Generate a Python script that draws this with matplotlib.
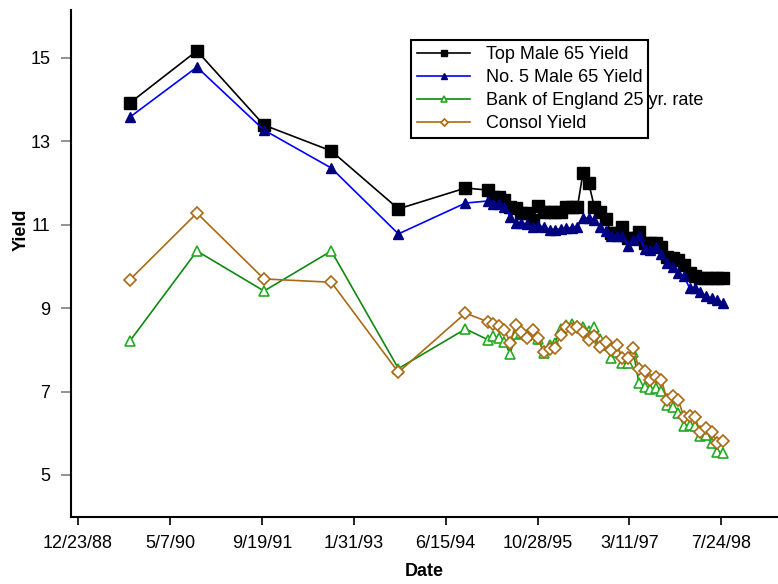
import datetime as dt

import matplotlib.pyplot as plt
import matplotlib.patches as mpatches
import pandas as pd

plt.rcParams['font.family'] = ['Liberation Sans', 'DejaVu Sans']

# observation dates: yearly points up to 1994, then monthly
annual_dates = pd.to_datetime(['1989-10-01', '1990-10-01', '1991-10-01',
                               '1992-10-01', '1993-10-01', '1994-10-01'])
monthly_dates = pd.date_range('1995-02-01', '1998-08-01', freq='MS')
dates = annual_dates.append(monthly_dates)

top_male = [13.92, 15.17, 13.39, 12.77, 11.38, 11.88,
            11.83, 11.67, 11.67, 11.59, 11.43, 11.40, 11.28, 11.28, 11.12, 11.45,
            11.31, 11.31, 11.31, 11.31, 11.43, 11.43, 11.43, 12.24, 12.00, 11.43,
            11.31, 11.14, 10.80, 10.80, 10.95, 10.68, 10.68, 10.83, 10.56, 10.56,
            10.56, 10.47, 10.23, 10.20, 10.16, 10.04, 9.84, 9.77, 9.72, 9.72,
            9.72, 9.72, 9.72]

no5_male = [13.58, 14.78, 13.27, 12.36, 10.78, 11.52,
            11.57, 11.50, 11.50, 11.43, 11.19, 11.04, 11.04, 11.02, 10.95, 10.97,
            10.95, 10.88, 10.88, 10.90, 10.92, 10.92, 10.95, 11.16, 11.16, 11.12,
            10.94, 10.85, 10.73, 10.73, 10.73, 10.49, 10.64, 10.73, 10.42, 10.40,
            10.47, 10.30, 10.08, 9.99, 9.84, 9.77, 9.48, 9.48, 9.39, 9.29,
            9.24, 9.20, 9.12]

boe_25yr = [8.21, 10.37, 9.41, 10.37, 7.55, 8.50,
            8.24, 8.33, 8.29, 8.19, 7.90, 8.38, 8.41, 8.35, 8.41, 8.26,
            7.93, 8.12, 8.17, 8.50, 8.60, 8.62, 8.58, 8.55, 8.45, 8.55,
            8.25, 8.12, 7.81, 7.95, 7.69, 7.69, 7.95, 7.21, 7.10, 7.06,
            7.09, 7.01, 6.68, 6.63, 6.49, 6.18, 6.20, 6.18, 5.94, 5.96,
            5.77, 5.55, 5.53]

consol = [9.68, 11.28, 9.70, 9.62, 7.46, 8.88,
          8.67, 8.62, 8.57, 8.48, 8.17, 8.60, 8.43, 8.29, 8.48, 8.29,
          7.95, 8.02, 8.05, 8.36, 8.55, 8.50, 8.55, 8.43, 8.24, 8.33,
          8.07, 8.19, 8.00, 8.12, 7.81, 7.81, 8.05, 7.54, 7.49, 7.28,
          7.35, 7.28, 6.80, 6.89, 6.80, 6.39, 6.41, 6.39, 6.03, 6.13,
          6.03, 5.77, 5.82]

yticks = [5, 7, 9, 11, 13, 15]
tick_start = dt.datetime(1988, 12, 23)
tick_step_days = 500
n_xticks = 8

fig = plt.figure(figsize=(7.78, 5.84), dpi=100)
ax = fig.add_axes([71 / 778, 67 / 584, 707 / 778, 507 / 584])

ax.plot(dates, top_male, color='black', lw=1.2, marker='s', ms=8,
        mfc='black', mec='black', label='Top Male 65 Yield')
ax.plot(dates, no5_male, color='#0000ff', lw=1.2, marker='^', ms=7.5,
        mfc='#000080', mec='#000080', label='No. 5 Male 65 Yield')
ax.plot(dates, boe_25yr, color='#118811', lw=1.2, marker='^', ms=7.5,
        mfc='white', mec='#22aa22', mew=1.2, label='Bank of England 25 yr. rate')
ax.plot(dates, consol, color='#aa6a12', lw=1.2, marker='D', ms=6,
        mfc='white', mec='#aa6a12', mew=1.2, label='Consol Yield')

xticks = [tick_start + dt.timedelta(days=tick_step_days * i) for i in range(n_xticks)]
ax.set_xticks(xticks)
ax.set_xticklabels([f'{d.month}/{d.day}/{d.year % 100:02d}' for d in xticks])
ax.set_xlim(tick_start - dt.timedelta(days=38), tick_start + dt.timedelta(days=3808))
ax.set_ylim(3.99, 16.15)
ax.set_yticks(yticks)

for side in ('top', 'right'):
    ax.spines[side].set_visible(False)
for side in ('left', 'bottom'):
    ax.spines[side].set_linewidth(1.5)

ax.tick_params(axis='x', direction='out', length=6, width=1.2, pad=7,
               labelsize=13, color='black')
ax.tick_params(axis='y', direction='out', length=7, width=1.2, pad=8,
               labelsize=13, color='#808080')

ax.set_xlabel('Date', fontsize=13, fontweight='bold')
ax.set_ylabel('Yield', fontsize=13, fontweight='bold')
ax.xaxis.set_label_coords(0.5, -0.091)
ax.yaxis.set_label_coords(-0.058, 0.566)

# fixed-width legend box; the longest label runs past its right edge
legend_box = mpatches.Rectangle((0.481, 0.747), 0.335, 0.194, transform=ax.transAxes,
                                facecolor='white', edgecolor='black', lw=1.5,
                                zorder=4.5)
ax.add_patch(legend_box)
ax.legend(loc='upper left', bbox_to_anchor=(0.481, 0.941), borderaxespad=0,
          fontsize=13, frameon=False, markerscale=0.6, handlelength=2.9,
          handletextpad=0.9, labelspacing=0.33, borderpad=0.35)

fig.savefig('out.png', dpi=100)
